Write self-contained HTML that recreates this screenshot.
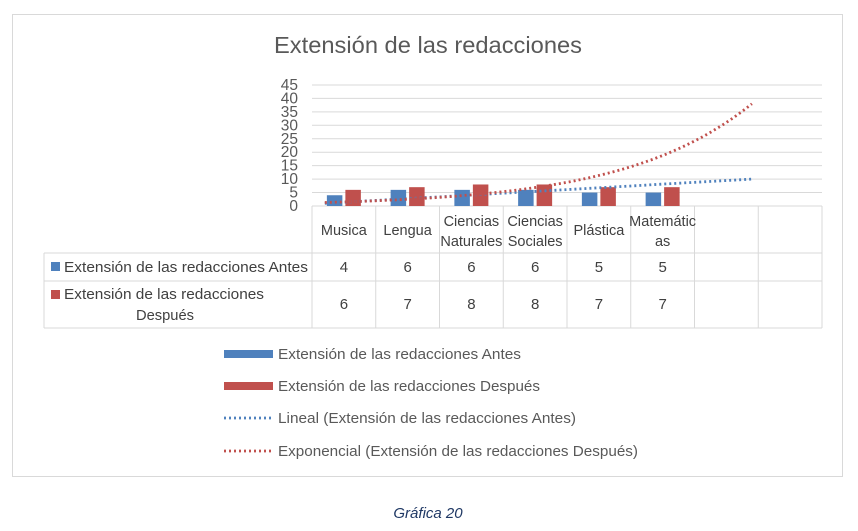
<!DOCTYPE html>
<html><head><meta charset="utf-8"><style>
body{margin:0;background:#fff;}
svg{display:block;font-family:"Liberation Sans",sans-serif;}
</style></head><body>
<svg id="chart" width="858" height="531" viewBox="0 0 858 531">
<rect x="12.5" y="14.5" width="830" height="462" fill="#fff" stroke="#d9d9d9"/>
<text x="428" y="53" text-anchor="middle" font-size="23" fill="#595959" textLength="308" lengthAdjust="spacingAndGlyphs">Extensión de las redacciones</text>
<g id="grid"></g><g id="yticks"></g><g id="table"></g><g id="bars"></g><g id="trends"></g><g id="legend"></g>
<text x="428" y="518" text-anchor="middle" font-size="15" font-style="italic" fill="#1f3864">Gráfica 20</text>
</svg>
<script>
const categories=["Musica","Lengua","Ciencias Naturales","Ciencias Sociales","Plástica","Matemáticas","",""];
const catLines=[["Musica"],["Lengua"],["Ciencias","Naturales"],["Ciencias","Sociales"],["Plástica"],["Matemátic","as"],[],[]];
const antes=[4,6,6,6,5,5];
const despues=[6,7,8,8,7,7];
const yTicks=[0,5,10,15,20,25,30,35,40,45];
const linStart=[-0.3,1],linEnd=[6.4,10];
const expStart=[-0.3,1.3],expEnd=[6.4,38];
const NS="http://www.w3.org/2000/svg";
const X0=312,CW=63.75,Y0=206,PY=2.69;
function xc(i){return X0+CW*(i+0.5);}
function y(v){return Y0-v*PY;}
function mk(par,tag,at){const e=document.createElementNS(NS,tag);for(const k in at)e.setAttribute(k,at[k]);document.getElementById(par).appendChild(e);return e;}
yTicks.forEach(t=>{
 const l=mk('grid','line',{x1:X0,x2:X0+CW*8,y1:y(t),y2:y(t),stroke:'#d9d9d9'});
 
 
 const tx=mk('yticks','text',{x:298,y:y(t)+5,'text-anchor':'end','font-size':15.5,fill:'#595959'});
 tx.textContent=t;
 
 
});
const st={stroke:'#d9d9d9','stroke-width':1};
const rowsY=[206,253,281,328];
for(let i=0;i<=8;i++){const l=mk('table','line',Object.assign({x1:X0+CW*i,x2:X0+CW*i,y1:206,y2:328},st));}
rowsY.slice(1).forEach(r=>{const l=mk('table','line',Object.assign({x1:44,x2:X0+CW*8,y1:r,y2:r},st));});
{const l=mk('table','line',Object.assign({x1:44,x2:44,y1:253,y2:328},st));}
catLines.forEach((ls,i)=>{
 const n=ls.length; ls.forEach((s,j)=>{
  const t=mk('table','text',{x:xc(i),y:(n===1?235:226+j*20),'text-anchor':'middle','font-size':14.5,fill:'#404040'});
  t.textContent=s;
  
  
 });
});
function rowVals(arr,yy,name){arr.forEach((v,i)=>{const t=mk('table','text',{x:xc(i),y:yy,'text-anchor':'middle','font-size':15,fill:'#404040'});t.textContent=v;});}
rowVals(antes,272,'antes-value');rowVals(despues,309,'despues-value');
{let r=mk('table','rect',{x:51,y:262,width:9,height:9,fill:'#4f81bd'});
 let t=mk('table','text',{x:64,y:272,'font-size':15,fill:'#404040',textLength:244,lengthAdjust:'spacingAndGlyphs'});t.textContent='Extensión de las redacciones Antes';
 r=mk('table','rect',{x:51,y:290,width:9,height:9,fill:'#c0504d'});
 t=mk('table','text',{x:64,y:299,'font-size':15,fill:'#404040',textLength:200,lengthAdjust:'spacingAndGlyphs'});t.textContent='Extensión de las redacciones';
 t=mk('table','text',{x:165,y:320,'text-anchor':'middle','font-size':15,fill:'#404040',textLength:58,lengthAdjust:'spacingAndGlyphs'});t.textContent='Después';}
const BW=15.5;
antes.forEach((v,i)=>{const b=mk('bars','rect',{x:xc(i)-BW-1.5,y:y(v),width:BW,height:Y0-y(v),fill:'#4f81bd'});});
despues.forEach((v,i)=>{const b=mk('bars','rect',{x:xc(i)+1.5,y:y(v),width:BW,height:Y0-y(v),fill:'#c0504d'});});
function trend(fn,color,name){let d='';for(let k=0;k<=60;k++){const t=linStart[0]+(linEnd[0]-linStart[0])*k/60;d+=(k?'L':'M')+xc(t).toFixed(1)+','+y(fn(t)).toFixed(1);}
 const p=mk('trends','path',{d:d,fill:'none',stroke:color,'stroke-width':2.8,'stroke-dasharray':'2 3','stroke-linecap':'butt'});}
trend(t=>linStart[1]+(linEnd[1]-linStart[1])*(t-linStart[0])/(linEnd[0]-linStart[0]),'#4f81bd','trend-linear-antes');
const kk=Math.log(expEnd[1]/expStart[1])/(expEnd[0]-expStart[0]);
trend(t=>expStart[1]*Math.exp(kk*(t-expStart[0])),'#c0504d','trend-exp-despues');
const leg=[['bar','#4f81bd','Extensión de las redacciones Antes',243],['bar','#c0504d','Extensión de las redacciones Después',262],['dot','#4f81bd','Lineal (Extensión de las redacciones Antes)',298],['dot','#c0504d','Exponencial (Extensión de las redacciones Después)',360]];
const ly=[354,386,418,451];
leg.forEach((e,i)=>{
 let s;
 if(e[0]==='bar')s=mk('legend','rect',{x:224,y:ly[i]-4,width:49,height:8,fill:e[1]});
 else s=mk('legend','line',{x1:224,x2:273,y1:ly[i],y2:ly[i],stroke:e[1],'stroke-width':2.8,'stroke-dasharray':'2 3'});
 
 
 const t=mk('legend','text',{x:278,y:ly[i]+5,'font-size':15,fill:'#595959',textLength:e[3],lengthAdjust:'spacingAndGlyphs'});
 t.textContent=e[2];
 
 
});
</script>
</body></html>
